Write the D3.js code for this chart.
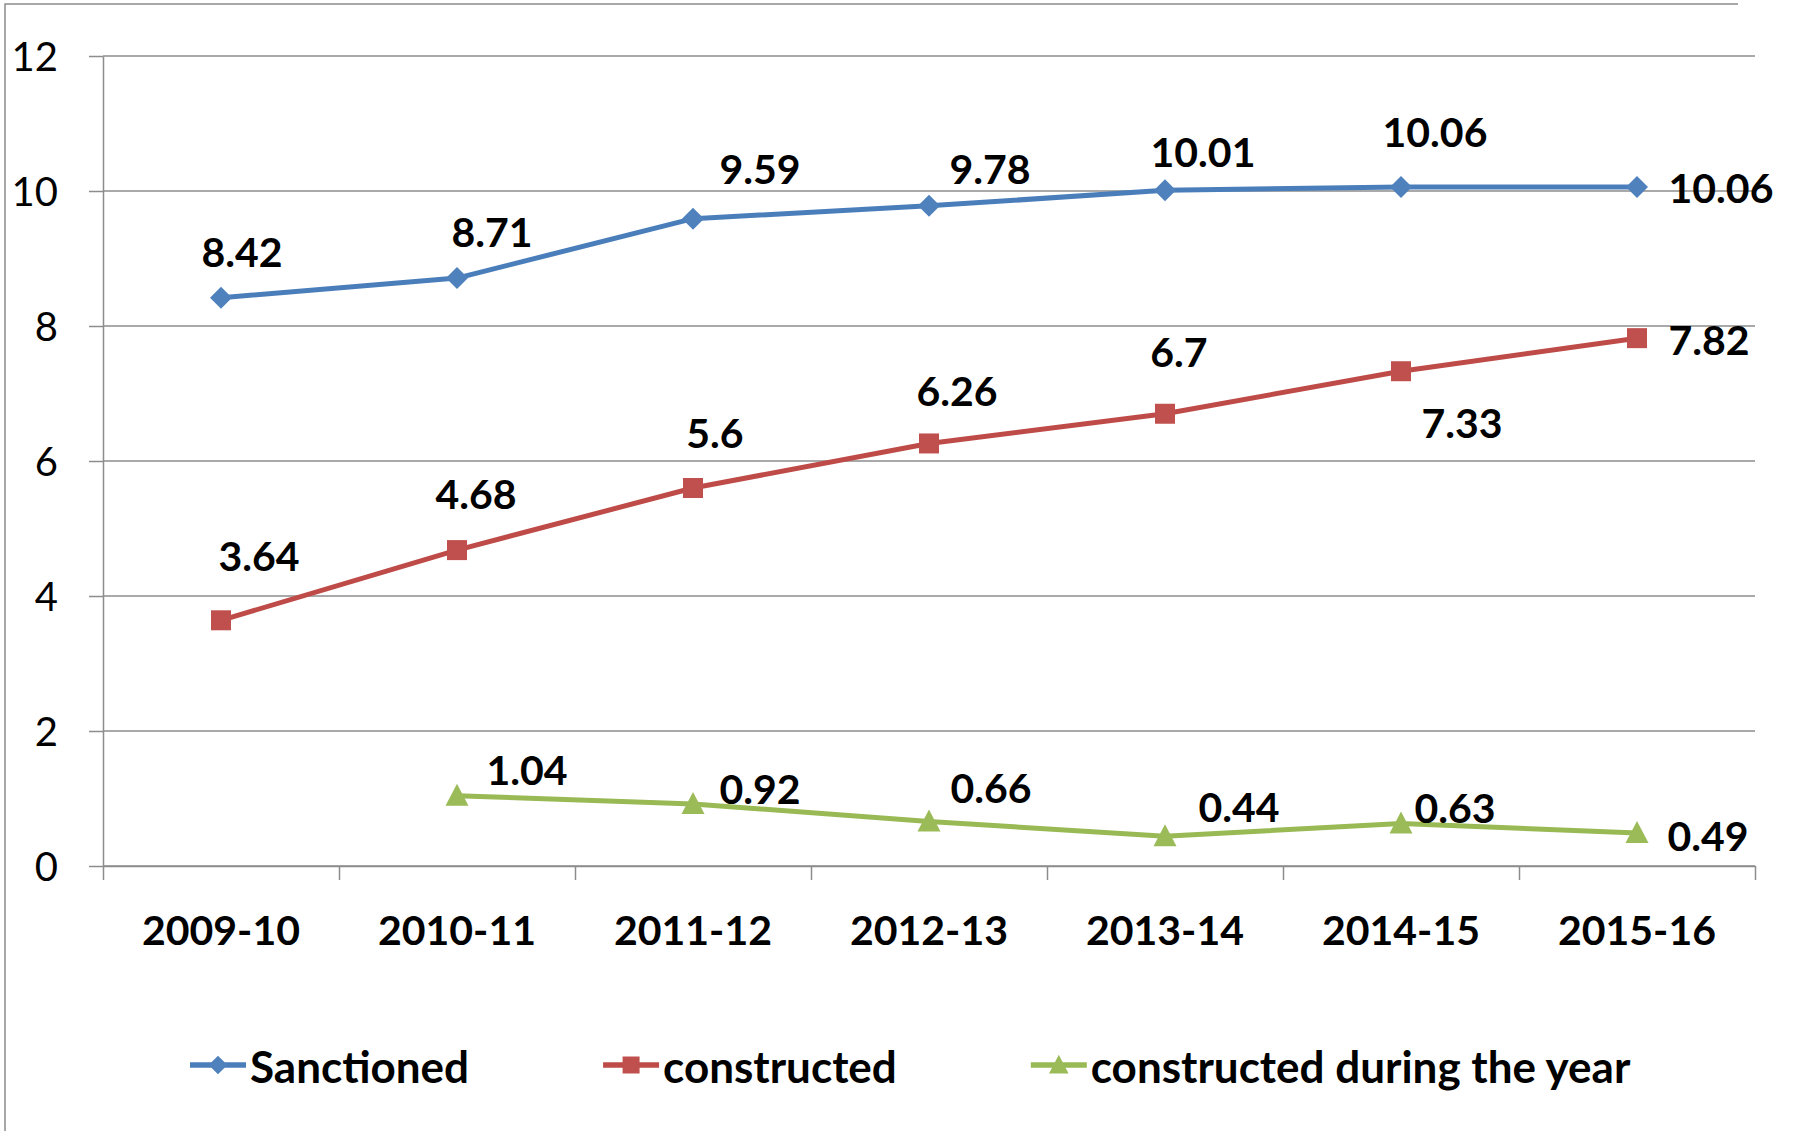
<!DOCTYPE html>
<html>
<head>
<meta charset="utf-8">
<script src="https://cdn.jsdelivr.net/npm/d3@7"></script>
<style>
  body { margin: 0; background: #fff; }
  svg { display: block; }
  text { font-family: Lato, 'Open Sans', sans-serif; fill: #000; }
</style>
</head>
<body>
<script>
// data
const categories = ['2009-10', '2010-11', '2011-12', '2012-13', '2013-14', '2014-15', '2015-16'];
const sanctioned = [8.42, 8.71, 9.59, 9.78, 10.01, 10.06, 10.06];
const constructed = [3.64, 4.68, 5.6, 6.26, 6.7, 7.33, 7.82];
const duringYear = [null, 1.04, 0.92, 0.66, 0.44, 0.63, 0.49];
const seriesNames = ['Sanctioned', 'constructed', 'constructed during the year'];
const yTicks = [0, 2, 4, 6, 8, 10, 12];

// hand-placed label nudges (px from the point: dx to label centre, dy to baseline)
const labelNudge = [
  [[21, -31], [35, -31], [67, -35], [61, -22], [38, -23], [34, -40], [84, 16]],
  [[38, -49], [19, -41], [22, -40], [28, -37], [14, -47], [61, 67], [72, 17]],
  [null, [70, -11], [67, 0], [62, -18], [74, -14], [54, 0], [71, 18]]
];

const width = 1806;
const height = 1131;
const plot = {left: 103, right: 1755, top: 56, bottom: 866};

const lineColors = ['#4A7EBB', '#BE4B48', '#98B954'];
const markColors = ['#4F81BD', '#C0504D', '#9BBB59'];
const gridColor = '#8c8c8c';

const svg = d3.select('body').append('svg')
    .attr('width', width)
    .attr('height', height);

// outer chart frame (only top and left edges are in frame)
svg.append('path')
    .attr('d', `M1738,4H5V${height}`)
    .attr('fill', 'none')
    .attr('stroke', gridColor)
    .attr('stroke-width', 1.5);

const x = d3.scaleBand()
    .domain(categories)
    .range([plot.left, plot.right]);

const y = d3.scaleLinear()
    .domain([0, 12])
    .range([plot.bottom, plot.top]);

const cx = d => x(d) + x.bandwidth() / 2;

// gridlines
svg.append('g')
  .selectAll('line')
  .data(yTicks)
  .enter().append('line')
    .attr('x1', plot.left)
    .attr('x2', plot.right)
    .attr('y1', d => y(d))
    .attr('y2', d => y(d))
    .attr('stroke', gridColor)
    .attr('stroke-width', 1.5);

// y axis
const yAxis = svg.append('g')
    .attr('transform', `translate(${plot.left},0)`)
    .call(d3.axisLeft(y).tickValues(yTicks).tickSize(14).tickSizeOuter(0).tickPadding(31));
yAxis.selectAll('path, line').attr('stroke', gridColor).attr('stroke-width', 1.5);
yAxis.selectAll('text')
    .attr('font-family', 'Lato, sans-serif')
    .attr('font-size', 40)
    .attr('dy', '0.36em');

// x axis: boundary ticks + centred labels
const xEdge = d3.scaleLinear().domain([0, categories.length]).range([plot.left, plot.right]);
const xAxis = svg.append('g')
    .attr('transform', `translate(0,${plot.bottom})`)
    .call(d3.axisBottom(xEdge).ticks(categories.length).tickSize(14).tickSizeOuter(0).tickFormat(''));
xAxis.selectAll('path, line').attr('stroke', gridColor).attr('stroke-width', 1.5);

svg.append('g')
  .selectAll('text')
  .data(categories)
  .enter().append('text')
    .attr('x', d => cx(d))
    .attr('y', 945)
    .attr('text-anchor', 'middle')
    .attr('font-size', 41)
    .attr('font-weight', 700)
    .text(d => d);

// series
const seriesValues = [sanctioned, constructed, duringYear];

const markerPath = [
  'M0,-11L11,0L0,11L-11,0Z',
  'M-10,-10H10V10H-10Z',
  'M0,-12L11.5,10H-11.5Z'
];

const line = d3.line()
    .defined(d => d.v !== null)
    .x(d => cx(d.c))
    .y(d => y(d.v));

seriesValues.forEach((vals, s) => {
  const pts = vals.map((v, i) => ({c: categories[i], v: v, i: i}));
  const g = svg.append('g');

  g.append('path')
      .datum(pts)
      .attr('d', line)
      .attr('fill', 'none')
      .attr('stroke', lineColors[s])
      .attr('stroke-width', 5)
      .attr('stroke-linejoin', 'round');

  const shown = pts.filter(d => d.v !== null);

  g.selectAll('path.mark')
      .data(shown)
    .enter().append('path')
      .attr('class', 'mark')
      .attr('d', markerPath[s])
      .attr('transform', d => `translate(${cx(d.c)},${y(d.v)})`)
      .attr('fill', markColors[s]);

  g.selectAll('text')
      .data(shown)
    .enter().append('text')
      .attr('x', d => cx(d.c) + labelNudge[s][d.i][0])
      .attr('y', d => y(d.v) + labelNudge[s][d.i][1])
      .attr('text-anchor', 'middle')
      .attr('font-size', 41)
      .attr('font-weight', 700)
      .text(d => d.v);
});

// legend
const legend = svg.append('g').attr('transform', 'translate(190,1065)');
let lx = 0;
seriesNames.forEach((name, s) => {
  const item = legend.append('g').attr('transform', `translate(${lx},0)`);
  item.append('line')
      .attr('x1', 0).attr('x2', 56)
      .attr('stroke', lineColors[s])
      .attr('stroke-width', 5.5);
  item.append('path')
      .attr('d', markerPath[s])
      .attr('transform', 'translate(28,0) scale(0.85)')
      .attr('fill', markColors[s]);
  const t = item.append('text')
      .attr('x', 60)
      .attr('y', 18)
      .attr('font-size', 44)
      .attr('font-weight', 700)
      .text(name);
  lx += 60 + t.node().getComputedTextLength() + 134;
});
</script>
</body>
</html>
